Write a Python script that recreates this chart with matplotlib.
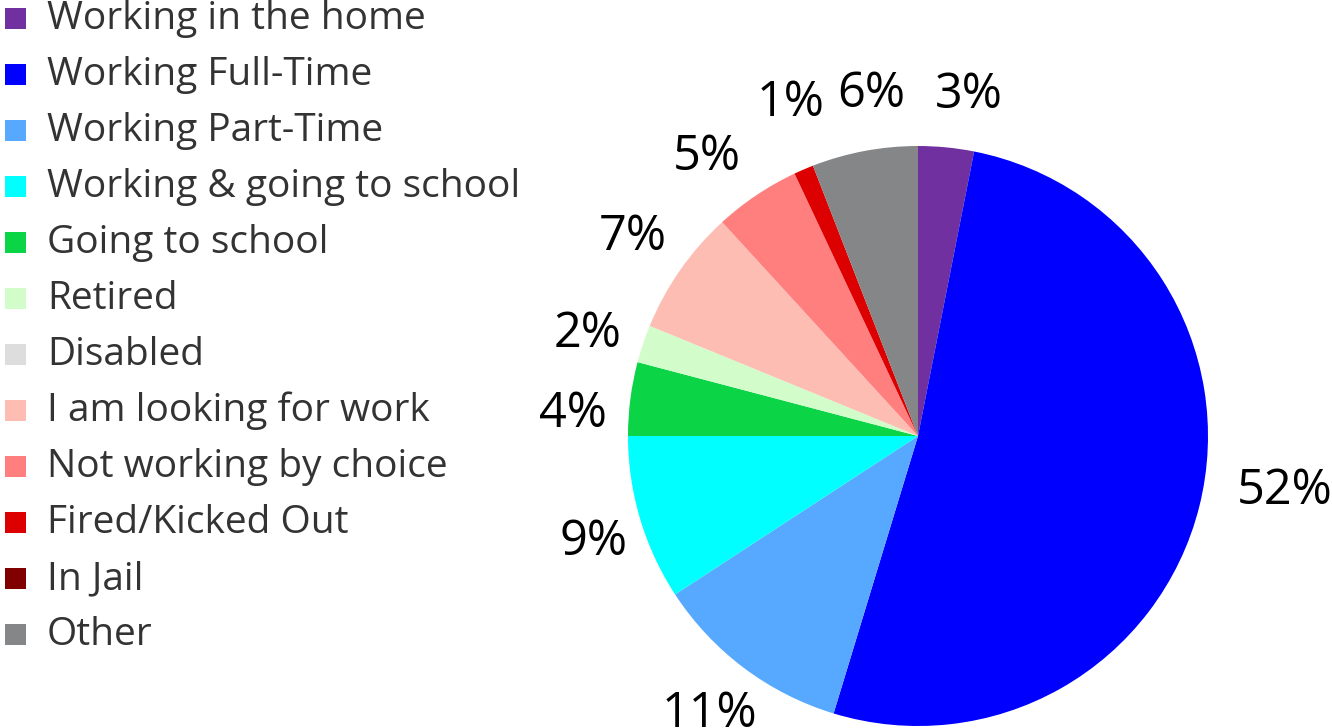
import matplotlib
matplotlib.use("Agg")
import matplotlib.pyplot as plt
from matplotlib.patches import Rectangle

plt.rcParams['font.family'] = ['Open Sans', 'DejaVu Sans']

# status categories (legend order) and their share in percent
categories = ["Working in the home", "Working Full-Time", "Working Part-Time",
              "Working & going to school", "Going to school", "Retired", "Disabled",
              "I am looking for work", "Not working by choice", "Fired/Kicked Out",
              "In Jail", "Other"]
shares = [3.1, 51.6, 11.1, 9.2, 4.1, 2.1, 0.0, 7.0, 4.8, 1.1, 0.0, 5.9]
colors = ["#7030A0", "#0000FF", "#57A8FF", "#00FFFF", "#0CD447", "#D3FCCB",
          "#DDDDDD", "#FDBDB3", "#FF7F7F", "#DD0000", "#800000", "#848687"]

W, H = 1332, 728
fig = plt.figure(figsize=(W / 100, H / 100), dpi=100)

# pie axes: centre at about (918, 436) px, radius 290 px
ax = fig.add_axes([628 / W, 2 / H, 580 / W, 580 / H])
vals = [v for v in shares if v > 0]
cols = [c for v, c in zip(shares, colors) if v > 0]
wedges, texts, autotexts = ax.pie(vals, colors=cols, startangle=90, counterclock=False,
                                  autopct='%.0f%%', pctdistance=1.2, radius=1,
                                  wedgeprops=dict(linewidth=0),
                                  textprops=dict(fontsize=35, color='black'))
# small nudges so labels sit like the original
nudge = {'3%': (0.06, -0.02), '6%': (0.06, 0.0), '1%': (0.035, 0.045),
         '5%': (-0.06, -0.035), '2%': (0.0, -0.03), '4%': (0.0, -0.08),
         '9%': (0.03, -0.025), '52%': (0.1, 0.1)}
for t in autotexts:
    x, y = t.get_position()
    dx, dy = nudge.get(t.get_text(), (0, 0))
    t.set_position((x + dx, y + dy))
ax.set_xlim(-1, 1)
ax.set_ylim(-1, 1)
ax.set_aspect('equal')
ax.axis('off')

# legend drawn by hand: rows 56 px apart
for i, (lab, c) in enumerate(zip(categories, colors)):
    yc = 18 + 56 * i
    fig.patches.append(Rectangle((5 / W, 1 - (yc + 11) / H), 21 / W, 21 / H,
                                 transform=fig.transFigure, facecolor=c,
                                 edgecolor='none'))
    fig.text(47 / W, 1 - (yc + 1) / H, lab, fontsize=28, color='#333333',
             ha='left', va='center')

fig.savefig("out.png", dpi=100)
